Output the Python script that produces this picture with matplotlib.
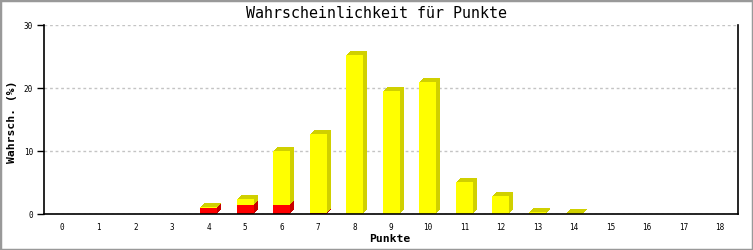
import matplotlib
matplotlib.use("Agg")
import matplotlib.pyplot as plt
from matplotlib.transforms import offset_copy
from matplotlib.patches import Rectangle

punkte = list(range(19))
rot = [0, 0, 0, 0, 1.0, 1.48, 1.45, 0.18, 0, 0, 0, 0, 0, 0, 0, 0, 0, 0, 0]
gelb = [0, 0, 0, 0, 0.15, 0.95, 8.55, 12.57, 25.3, 19.6, 21.0, 5.1, 2.9, 0.35, 0.25, 0, 0, 0, 0]
y_ticks = [0, 10, 20, 30]

title = "Wahrscheinlichkeit für Punkte"
xlabel = "Punkte"
ylabel = "Wahrsch. (%)"

W, H, DPI = 753, 250, 100
fig = plt.figure(figsize=(W / DPI, H / DPI), dpi=DPI)
fig.patch.set_facecolor("white")
fig.patches.append(Rectangle((0, 0), 1, 1, transform=fig.transFigure, fill=False,
                             edgecolor="#999999", linewidth=2.5))

ax = fig.add_axes([44 / W, (H - 214.3) / H, (738.5 - 44) / W, (214.3 - 25.3) / H])
ax.set_xlim(-0.5, 18.5)
ax.set_ylim(0, 30)

mono = "DejaVu Sans Mono"
bw = 0.465
depth = 4

bottoms = [0] * len(punkte)
for vals, front, side in [(rot, "#ff0000", "#c80000"), (gelb, "#ffff00", "#d0d000")]:
    for k in range(depth, 0, -1):
        tr = offset_copy(ax.transData, fig=fig, x=k, y=k, units="dots")
        ax.bar(punkte, vals, width=bw, bottom=bottoms, color=side, linewidth=0,
               transform=tr, zorder=2)
    ax.bar(punkte, vals, width=bw, bottom=bottoms, color=front, linewidth=0, zorder=3)
    bottoms = [b + v for b, v in zip(bottoms, vals)]

ax.set_yticks(y_ticks)
ax.set_xticks(punkte)
ax.set_xticklabels([str(p) for p in punkte], fontsize=5.5, family=mono)
ax.set_yticklabels([str(t) for t in y_ticks], fontsize=5.5, family=mono)
ax.tick_params(axis="x", length=0, pad=6)
ax.tick_params(axis="y", length=5, width=1, pad=3, direction="out")

ax.yaxis.grid(True, color="#c4c4c4", linestyle=(0, (2, 2)), linewidth=1)
ax.set_axisbelow(True)
for s in ["left", "bottom", "right"]:
    ax.spines[s].set_linewidth(1.2)
    ax.spines[s].set_color("black")
    ax.spines[s].set_zorder(5)
ax.spines["top"].set_visible(False)

fig.text(376 / W, 1 - 13 / H, title, ha="center", va="center", fontsize=10.8, family=mono)
fig.text(390 / W, 1 - 239 / H, xlabel, ha="center", va="center", fontsize=8.2,
         family=mono, fontweight="bold")
fig.text(12 / W, 1 - 122 / H, ylabel, ha="center", va="center", fontsize=8.2,
         family=mono, fontweight="bold", rotation=90)

fig.savefig("out.png", dpi=DPI, facecolor="white")
